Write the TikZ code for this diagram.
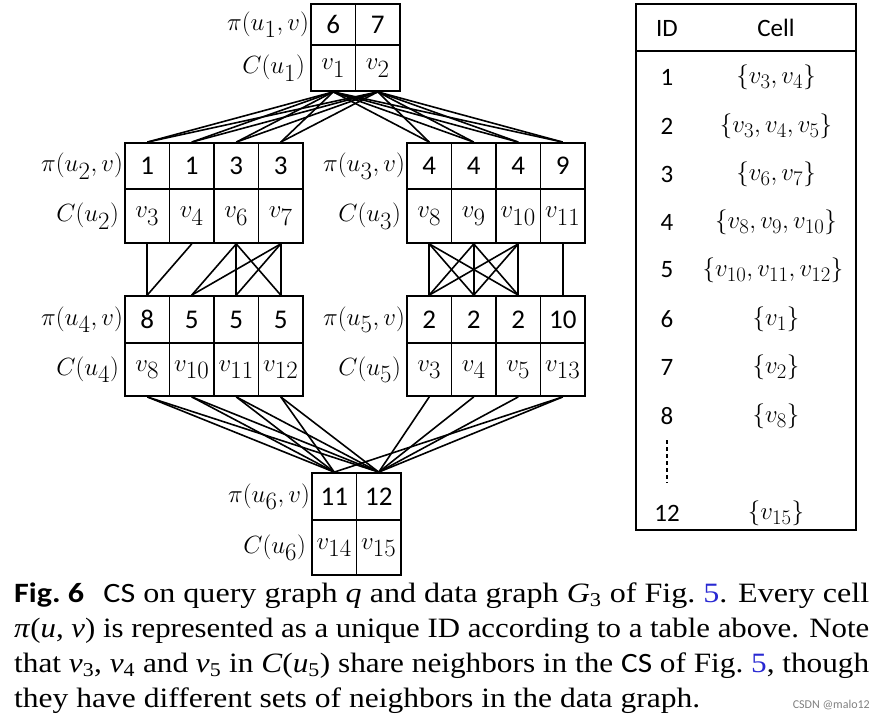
\documentclass[tikz,border=0pt]{standalone}
\usepackage{fontspec}
\usepackage{graphicx}
\setmainfont{Liberation Serif}
\newfontfamily\calib{Carlito}
\definecolor{linkblue}{RGB}{40,40,210}
\newcommand\grp[6]{%
  \pgfmathsetmacro\hA{#4-#3}\pgfmathsetmacro\hB{#5-#4}%
  \pgfmathsetmacro\yA{(#3+#4)/2}\pgfmathsetmacro\yB{(#4+#5)/2}%
  \foreach \p/\c [count=\i] in {#6}{%
    \node[cell, minimum height=\hA pt, font=\calib\fontsize{27}{29}\selectfont] (#1p\i) at ({#2+44.5*(\i-0.5)},\yA) {\p};
    \node[cell, minimum height=\hB pt, font=\fontsize{33}{36}\selectfont] (#1c\i) at ({#2+44.5*(\i-0.5)},\yB) {$\c$};
  }}
\begin{document}
\begin{tikzpicture}[x=1pt,y=-1pt,
  cell/.style={draw, line width=1.8pt, inner sep=0pt, minimum width=44.5pt},
  edge/.style={line width=1.6pt},
  lblp/.style={anchor=east, inner sep=1pt, font=\fontsize{33}{36}\selectfont},
  lblc/.style={anchor=east, inner sep=5pt, font=\fontsize{33}{36}\selectfont},
  tid/.style={font=\calib\fontsize{25}{27}\selectfont},
  tset/.style={font=\fontsize{32}{34}\selectfont}]
\useasboundingbox (0,0) rectangle (882,720);

% groups
\grp{g1}{311}{4}{45}{91}{6/v_1,7/v_2}
\grp{g2}{125}{143}{189}{243}{1/v_3,1/v_4,3/v_6,3/v_7}
\grp{g3}{407}{143}{189}{243}{4/v_8,4/v_9,4/v_{10},9/v_{11}}
\grp{g4}{125}{296}{343}{396}{8/v_8,5/v_{10},5/v_{11},5/v_{12}}
\grp{g5}{407}{296}{343}{396}{2/v_3,2/v_4,2/v_5,10/v_{13}}
\grp{g6}{312}{473}{520}{575}{11/v_{14},12/v_{15}}

% labels
\node[lblp] (l1p) at (g1p1.west) {$\pi(u_1,v)$};
\node[lblc] (l1c) at (g1c1.west) {$C(u_1)$};
\node[lblp] (l2p) at (g2p1.west) {$\pi(u_2,v)$};
\node[lblc] (l2c) at (g2c1.west) {$C(u_2)$};
\node[lblp] (l3p) at (g3p1.west) {$\pi(u_3,v)$};
\node[lblc] (l3c) at (g3c1.west) {$C(u_3)$};
\node[lblp] (l4p) at (g4p1.west) {$\pi(u_4,v)$};
\node[lblc] (l4c) at (g4c1.west) {$C(u_4)$};
\node[lblp] (l5p) at (g5p1.west) {$\pi(u_5,v)$};
\node[lblc] (l5c) at (g5c1.west) {$C(u_5)$};
\node[lblp] (l6p) at (g6p1.west) {$\pi(u_6,v)$};
\node[lblc] (l6c) at (g6c1.west) {$C(u_6)$};

% edges u1 -> u2, u3
\foreach \i in {1,2}{\foreach \j in {1,...,4}{
  \draw[edge] (g1c\i.south) -- (g2p\j.north);
  \draw[edge] (g1c\i.south) -- (g3p\j.north);}}
% u2 -> u4
\draw[edge] (g2c1.south) -- (g4p1.north);
\draw[edge] (g2c2.south) -- (g4p1.north);
\foreach \i in {3,4}{\foreach \j in {2,3,4}{\draw[edge] (g2c\i.south) -- (g4p\j.north);}}
% u3 -> u5
\foreach \i in {1,2,3}{\foreach \j in {1,2,3}{\draw[edge] (g3c\i.south) -- (g5p\j.north);}}
\draw[edge] (g3c4.south) -- (g5p4.north);
% u4 -> u6
\foreach \i in {1,...,4}{\foreach \j in {1,2}{\draw[edge] (g4c\i.south) -- (g6p\j.north);}}
% u5 -> u6
\foreach \i in {1,...,4}{\draw[edge] (g5c\i.south) -- (g6p2.north);}
\draw[edge] (g5c4.south) -- (g6p1.north);

% table
\draw[line width=1.8pt] (636,4) rectangle (856,530);
\draw[line width=1.8pt] (636,51) -- (856,51);
\node[tid] (hid) at (667,28) {ID};
\node[tid] (hcell) at (776,28) {Cell};
\node[tid] (r1) at (667,77) {1};  \node[tset] (s1) at (776,77) {$\{v_3,v_4\}$};
\node[tid] (r2) at (667,126) {2}; \node[tset] (s2) at (776,126) {$\{v_3,v_4,v_5\}$};
\node[tid] (r3) at (667,174) {3}; \node[tset] (s3) at (776,174) {$\{v_6,v_7\}$};
\node[tid] (r4) at (667,222) {4}; \node[tset] (s4) at (776,222) {$\{v_8,v_9,v_{10}\}$};
\node[tid] (r5) at (667,270) {5}; \node[tset] (s5) at (773,270) {$\{v_{10},v_{11},v_{12}\}$};
\node[tid] (r6) at (667,319) {6}; \node[tset] (s6) at (776,319) {$\{v_1\}$};
\node[tid] (r7) at (667,367) {7}; \node[tset] (s7) at (776,367) {$\{v_2\}$};
\node[tid] (r8) at (667,416) {8}; \node[tset] (s8) at (776,416) {$\{v_8\}$};
\draw[line width=1.2pt, dash pattern=on 4pt off 3pt] (667,440) -- (667,483);
\node[tid] (r12) at (667,513) {12}; \node[tset] (s12) at (776,513) {$\{v_{15}\}$};

% caption
\node[anchor=base west, inner sep=0pt] (cap1) at (14,602) {\resizebox{855pt}{\height}{\fontsize{28}{34}\selectfont{\calib\bfseries Fig.~6}\hspace{0.6em}{\calib CS} on query graph \textit{q} and data graph \textit{G}\textsubscript{3} of Fig.~\textcolor{linkblue}{5}. Every cell}};
\node[anchor=base west, inner sep=0pt] (cap2) at (14,637) {\resizebox{855pt}{\height}{\fontsize{28}{34}\selectfont\textit{π}(\textit{u}, \textit{v}) is represented as a unique ID according to a table above. Note}};
\node[anchor=base west, inner sep=0pt] (cap3) at (14,672) {\resizebox{855pt}{\height}{\fontsize{28}{34}\selectfont that \textit{v}\textsubscript{3}, \textit{v}\textsubscript{4} and \textit{v}\textsubscript{5} in \textit{C}(\textit{u}\textsubscript{5}) share neighbors in the {\calib CS} of Fig.~\textcolor{linkblue}{5}, though}};
\node[anchor=base west, inner sep=0pt] (cap4) at (14,707) {\resizebox{686pt}{\height}{\fontsize{28}{34}\selectfont they have different sets of neighbors in the data graph.}};
\node[anchor=base east, inner sep=0pt, text=gray, font=\calib\fontsize{12}{13}\selectfont] (wm) at (870,708) {CSDN @malo12};
\end{tikzpicture}
\end{document}
